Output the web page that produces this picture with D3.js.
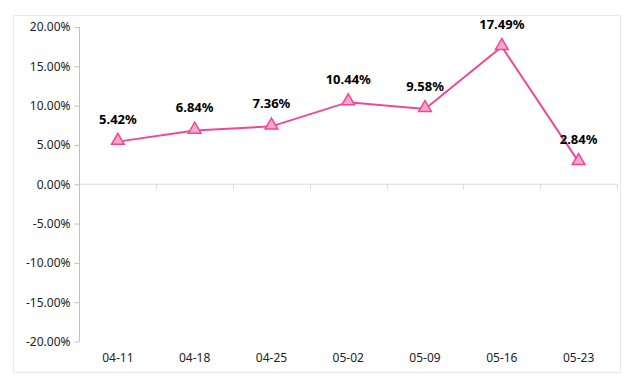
<!DOCTYPE html>
<html><head><meta charset="utf-8">
<script src="https://cdn.jsdelivr.net/npm/d3@7/dist/d3.min.js"></script>
<style>body{margin:0;background:#fff}svg{display:block}text{font-family:"Noto Sans","Open Sans",sans-serif}</style>
</head><body><svg id="c" width="636" height="387"></svg>
<script>
const categories = ["04-11","04-18","04-25","05-02","05-09","05-16","05-23"];
const values = [5.42, 6.84, 7.36, 10.44, 9.58, 17.49, 2.84];
const yTicks = [20,15,10,5,0,-5,-10,-15,-20];

const svg = d3.select("#c");
svg.append("rect").attr("x",13.5).attr("y",15.5).attr("width",607).attr("height",357)
  .attr("fill","#fff").attr("stroke","#e8e8e8");

const x = d3.scaleBand().domain(categories).range([79.5,617]);
const y = d3.scaleLinear().domain([-20,20]).range([341.5,27]);
const fmt = v => v.toFixed(2) + "%";

// y axis
const ya = svg.append("g").attr("transform","translate(79.5,0)")
  .call(d3.axisLeft(y).tickValues(yTicks).tickFormat(fmt).tickSize(5).tickPadding(4));
ya.select(".domain").attr("stroke","#bfbfbf").attr("d","M0,"+y(20)+"V"+y(-20));
ya.selectAll(".tick line").attr("stroke","#bfbfbf");
ya.selectAll(".tick text").attr("font-size",12).attr("fill","#222");

// x axis at zero
const xa = svg.append("g").attr("transform","translate(0,"+y(0)+")");
xa.append("line").attr("x1",79.5).attr("x2",617).attr("stroke","#d9d9d9");
const bounds = categories.map(c=>x(c)).concat([x.range()[1]]).slice(1);
xa.selectAll(".tk").data(bounds).join("line").attr("x1",d=>Math.round(d)+0.5).attr("x2",d=>Math.round(d)+0.5)
  .attr("y1",0).attr("y2",5).attr("stroke","#d9d9d9");
svg.selectAll(".xl").data(categories).join("text")
  .attr("x",d=>x(d)+x.bandwidth()/2).attr("y",362).attr("text-anchor","middle")
  .attr("font-size",12).attr("fill","#222").text(d=>d);

// line
const cx = (d,i)=>x(categories[i])+x.bandwidth()/2;
svg.append("path").datum(values)
  .attr("d",d3.line().x(cx).y(d=>y(d)))
  .attr("fill","none").attr("stroke","#f0479a").attr("stroke-width",2);

const tri = d3.symbol().type(d3.symbolTriangle).size(70);
svg.selectAll(".m").data(values).join("path")
  .attr("transform",(d,i)=>"translate("+cx(d,i)+","+(y(d)-1)+")")
  .attr("d",tri).attr("fill","#f7a6cc").attr("stroke","#f0479a").attr("stroke-width",1.5);

svg.selectAll(".lb").data(values).join("text")
  .attr("x",cx).attr("y",d=>y(d)-18).attr("text-anchor","middle")
  .attr("font-size",13).attr("font-weight","bold").attr("fill","#000").text(fmt);
</script></body></html>
